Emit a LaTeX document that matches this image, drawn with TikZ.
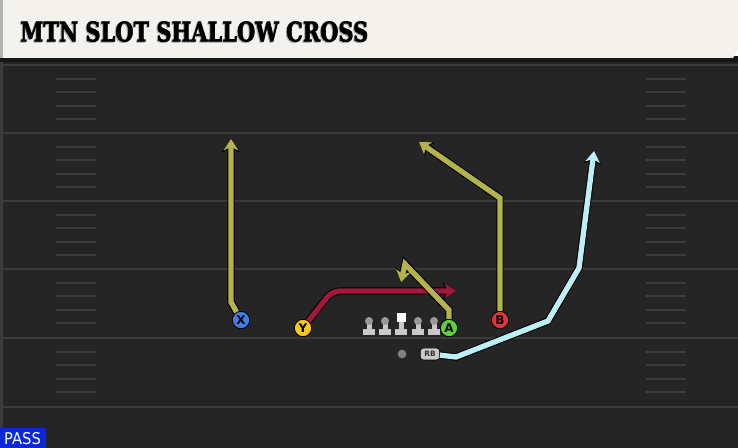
\documentclass[tikz,border=0pt]{standalone}
\usepackage{fontspec}
\usepackage{xcolor}
\usepackage{graphicx}
\usepackage{tikz}
\usetikzlibrary{arrows.meta}
\newfontfamily\titlefont{DejaVu Serif}[BoldFeatures={FakeBold=2.5}]
\newfontfamily\labelfont{DejaVu Sans}
\definecolor{papel}{HTML}{F4F2EC}
\definecolor{cancha}{HTML}{252525}
\definecolor{sombra}{HTML}{161616}
\definecolor{lineacancha}{HTML}{3B3B3B}
\definecolor{oliva}{HTML}{B3B24B}
\definecolor{carmesi}{HTML}{A3173A}
\definecolor{celeste}{HTML}{BDEFF7}
\definecolor{azulX}{HTML}{3D7FE6}
\definecolor{amarilloY}{HTML}{F6C81E}
\definecolor{verdeA}{HTML}{5CD13F}
\definecolor{rojoB}{HTML}{E2333F}
\definecolor{linea}{HTML}{C9C9C9}
\definecolor{azulpase}{HTML}{0A28D8}

\begin{document}
\begin{tikzpicture}[x=0.75pt, y=-0.75pt,
    jugador/.style={circle, draw=black, line width=0.6pt, minimum size=13pt, inner sep=0pt,
        font=\labelfont\bfseries\fontsize{9}{9}\selectfont},
    ruta/.style={line width=4pt, line join=miter,
        -{Stealth[length=8.5pt, width=11pt, inset=2.5pt]},
        preaction={draw=black, line width=5.5pt, -{Stealth[length=10pt, width=13pt, inset=3pt]}}},
    yarda/.style={draw=lineacancha, line width=2pt},
    marca/.style={draw=lineacancha, line width=1.6pt}]
        \useasboundingbox (0,0) rectangle (738,448);
        % Cancha
        \fill[cancha] (0,58) rectangle (738,448);
        \fill[lineacancha] (0,60) rectangle (3,448);
        \foreach \yl in {65,133,201,269,338,407}
            \draw[yarda] (3,\yl) -- (738,\yl);
        \foreach \yl in {65,133,201,269,338} {
            \foreach \k in {1,...,4} {
                \draw[marca] (56,{\yl+13.6*\k}) -- (96,{\yl+13.6*\k});
                \draw[marca] (646,{\yl+13.6*\k}) -- (686,{\yl+13.6*\k});
            }
        }
        % Encabezado
        \fill[sombra] (0,56) rectangle (738,62);
        \fill[papel] (0,0) -- (738,0) -- (738,50) -- (733,58) -- (0,58) -- cycle;
        \fill[gray!60] (0,0) rectangle (3,58);
        \node[anchor=south west, inner sep=0pt, text=gray!70] (sombratitulo) at (19,43)
            {\resizebox{261pt}{15pt}{\titlefont\bfseries MTN SLOT SHALLOW CROSS}};
        \node[anchor=south west, inner sep=0pt] (titulo) at (20,42)
            {\resizebox{261pt}{15pt}{\titlefont\bfseries MTN SLOT SHALLOW CROSS}};
        % Línea ofensiva
        \foreach \xl in {369,385,418,434} {
            \fill[linea] ({\xl-2.5},321) rectangle ({\xl+2.5},331);
            \fill[linea] ({\xl-6},329) rectangle ({\xl+6},335);
            \fill[gray!80] (\xl,321) circle (3pt);
        }
        \fill[linea] (398.5,321) rectangle (403.5,331);
        \fill[linea] (395,329) rectangle (407,335);
        \fill[white] (396.5,313) rectangle (405.5,322);
        % Jugadores
        \node[jugador, fill=azulX] (X) at (241,320) {X};
        \node[jugador, fill=amarilloY] (Y) at (303,328) {Y};
        \node[jugador, fill=verdeA] (A) at (449,328) {A};
        \node[jugador, fill=rojoB] (B) at (500,320) {B};
        \node[circle, fill=gray, minimum size=6.5pt, inner sep=0pt] (QB) at (402,354) {};
        \node[rounded corners=2.5pt, fill=linea, draw=black, line width=0.4pt, minimum width=14.5pt,
            minimum height=9pt, inner sep=0pt, text=black!80,
            font=\labelfont\bfseries\fontsize{5.5}{5.5}\selectfont] (RB) at (430,354) {RB};
        % Rutas
        \coordinate (x1) at (231,302);
        \coordinate (x2) at (231,139);
        \draw[ruta, draw=oliva] (X) -- (x1) -- (x2);
        \coordinate (y1) at (332,291);
        \coordinate (y2) at (456,291);
        \draw[ruta, draw=carmesi, rounded corners=6pt] (Y) -- (y1) -- (y2);
        \coordinate (a1) at (449,310);
        \coordinate (a2) at (405,264);
        \coordinate (a3) at (401,282);
        \draw[ruta, draw=oliva] (A) -- (a1) -- (a2) -- (a3);
        \coordinate (b1) at (500,198);
        \coordinate (b2) at (419,142);
        \draw[ruta, draw=oliva] (B) -- (b1) -- (b2);
        \coordinate (r1) at (456,357);
        \coordinate (r2) at (548,321);
        \coordinate (r3) at (579,268);
        \coordinate (r4) at (594,151);
        \draw[ruta, draw=celeste] (RB) -- (r1) -- (r2) -- (r3) -- (r4);
        % Tipo de jugada
        \fill[azulpase] (0,428) rectangle (46,448);
        \node[inner sep=0pt, text=white] (pase) at (22.5,439)
            {\resizebox{27.5pt}{9pt}{\labelfont PASS}};
    \end{tikzpicture}
\end{document}
